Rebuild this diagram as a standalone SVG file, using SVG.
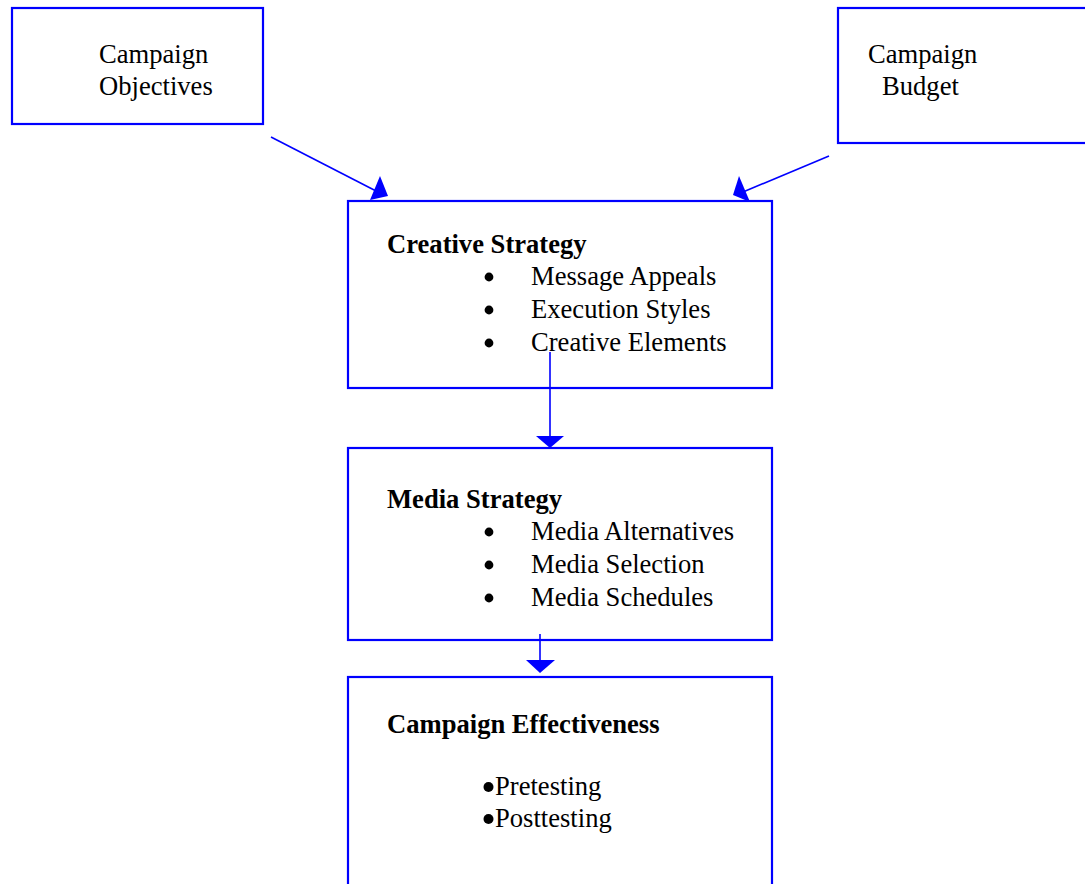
<svg xmlns="http://www.w3.org/2000/svg" width="1085" height="884" viewBox="0 0 1085 884">
  <style>
    .box { fill: #ffffff; stroke: #0000ff; stroke-width: 2.2; }
    .edge { stroke: #0000ff; stroke-width: 1.6; fill: none; }
    .head { fill: #0000ff; stroke: none; }
    .t { font-family: "Liberation Serif", "Times New Roman", serif; font-size: 26.6px; fill: #000000; }
    .b { font-weight: bold; }
  </style>
  <rect x="0" y="0" width="1085" height="884" fill="#ffffff"/>

  <g id="objectives">
    <rect class="box" x="12" y="8" width="251" height="116"/>
    <text class="t" x="99" y="63">Campaign</text>
    <text class="t" x="99" y="95">Objectives</text>
  </g>

  <g id="budget">
    <rect class="box" x="838" y="8" width="260" height="135"/>
    <text class="t" x="868" y="63">Campaign</text>
    <text class="t" x="882" y="95">Budget</text>
  </g>

  <g id="creative">
    <rect class="box" x="348" y="201" width="424" height="187"/>
    <text class="t b" x="387" y="253">Creative Strategy</text>
    <circle cx="489" cy="277" r="4.4"/>
    <circle cx="489" cy="310" r="4.4"/>
    <circle cx="489" cy="343" r="4.4"/>
    <text class="t" x="531" y="285">Message Appeals</text>
    <text class="t" x="531" y="318">Execution Styles</text>
    <text class="t" x="531" y="351">Creative Elements</text>
  </g>

  <g id="media">
    <rect class="box" x="348" y="448" width="424" height="192"/>
    <text class="t b" x="387" y="508">Media Strategy</text>
    <circle cx="489" cy="532" r="4.4"/>
    <circle cx="489" cy="565" r="4.4"/>
    <circle cx="489" cy="598" r="4.4"/>
    <text class="t" x="531" y="540">Media Alternatives</text>
    <text class="t" x="531" y="573">Media Selection</text>
    <text class="t" x="531" y="606">Media Schedules</text>
  </g>

  <g id="effectiveness">
    <rect class="box" x="348" y="677" width="424" height="220"/>
    <text class="t b" x="387" y="733">Campaign Effectiveness</text>
    <circle cx="488.5" cy="787" r="5"/>
    <circle cx="488.5" cy="819" r="5"/>
    <text class="t" x="495" y="795">Pretesting</text>
    <text class="t" x="495" y="827">Posttesting</text>
  </g>

  <!-- connectors drawn last so the vertical links show inside the boxes they leave -->
  <g id="connectors">
    <line class="edge" x1="271" y1="137" x2="378" y2="192"/>
    <polygon class="head" points="380,176 388,196 370,200"/>
    <line class="edge" x1="829" y1="156" x2="743" y2="192"/>
    <polygon class="head" points="739,176 733,195 750,202"/>
    <line class="edge" x1="550" y1="352" x2="550" y2="437"/>
    <polygon class="head" points="536,436 564,436 550,448"/>
    <line class="edge" x1="540" y1="634" x2="540" y2="661"/>
    <polygon class="head" points="526,660 555,660 540,673"/>
  </g>
</svg>
